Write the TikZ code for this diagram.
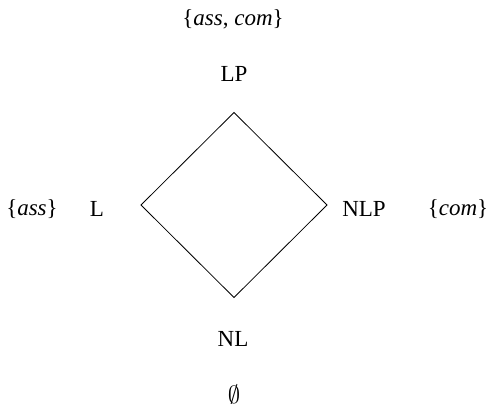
\documentclass[tikz,border=0pt]{standalone}
\usepackage{fontspec}
\setmainfont{Liberation Serif}
\begin{document}
\begin{tikzpicture}[x=1bp,y=-1bp,
  lbl/.style={inner sep=0pt,font=\fontsize{23bp}{27bp}\selectfont},
  edge/.style={line width=0.8bp,black}]
\useasboundingbox (0,0) rectangle (490,403);
% corners of the lattice diamond
\coordinate (top) at (234,112.5);
\coordinate (lft) at (141,205);
\coordinate (rgt) at (327,205);
\coordinate (bot) at (234,297.5);
\draw[edge] (top) -- (rgt) -- (bot) -- (lft) -- cycle;
% element names
\node[lbl] (lp)  at (234,74)  {LP};
\node[lbl] (l)   at (97,209)  {L};
\node[lbl] (nlp) at (364,209) {NLP};
\node[lbl] (nl)  at (233,339) {NL};
% property sets
\node[lbl] (sac) at (233,19)  {\{\textit{ass}, \textit{com}\}};
\node[lbl] (sa)  at (32,209)  {\{\textit{ass}\}};
\node[lbl] (sc)  at (458,209) {\{\textit{com}\}};
\node[lbl,font=\fontsize{27bp}{31bp}\selectfont] (se) at (234,395) {$\emptyset$};
\end{tikzpicture}
\end{document}
